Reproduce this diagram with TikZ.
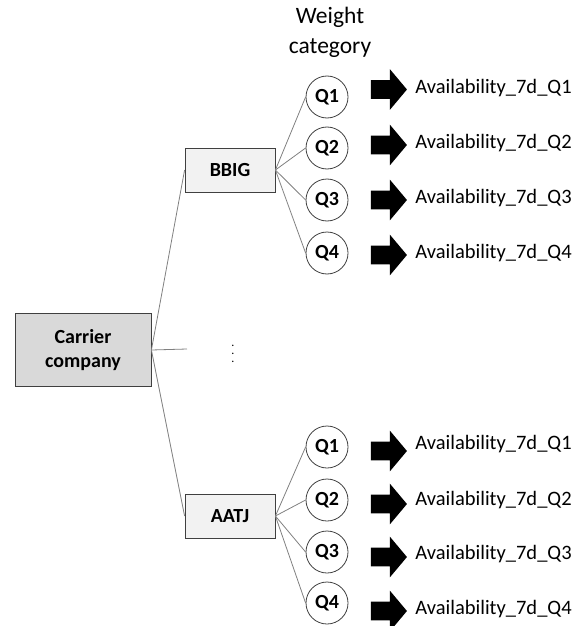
\documentclass[tikz,border=0pt]{standalone}
\usepackage{fontspec}
\setmainfont{Carlito}
\usetikzlibrary{shapes,arrows}
\definecolor{darkgrey}{HTML}{D9D9D9}
\definecolor{lightgrey}{HTML}{F2F2F2}
\definecolor{edgegrey}{HTML}{404040}
\tikzstyle{carrier} = [rectangle, draw=edgegrey, fill=darkgrey, font=\bfseries,
    minimum width=68pt, minimum height=36.5pt, align=center]
\tikzstyle{company} = [rectangle, draw=edgegrey, fill=lightgrey, font=\bfseries,
    minimum width=45pt, minimum height=22pt]
\tikzstyle{quart} = [circle, draw=edgegrey, font=\bfseries, minimum size=21pt, inner sep=0pt]
\tikzstyle{bigarrow} = [single arrow, fill=black, inner xsep=0pt, inner ysep=4.5pt,
    minimum height=18pt, single arrow head extend=5.5pt, single arrow tip angle=100]
\tikzstyle{avail} = [anchor=west, inner sep=0pt]
\tikzstyle{line} = [draw=gray, line width=0.4pt]

\begin{document}
\begin{tikzpicture} [x=0.5pt, y=-0.5pt, font=\fontsize{10.25}{12}\selectfont]
    \useasboundingbox (0,0) rectangle (583,626);
    % Nodes
    \node [font=\fontsize{11.75}{15}\selectfont, align=center] (title) at (330,32) {Weight\\category};
    \node [carrier] (carrier) at (83,350) {Carrier\\company};
    \node [company] (bbig) at (230,170) {BBIG};
    \node [company] (aatj) at (230,516) {AATJ};
    \coordinate (gap) at (187,349);
    \node [font=\fontsize{6}{6}\selectfont] (dots) at (233,348) {$\vdots$};
    % weight categories of BBIG
    \node [quart] (bq1) at (327,97) {Q1};
    \node [quart] (bq2) at (327,148) {Q2};
    \node [quart] (bq3) at (327,200) {Q3};
    \node [quart] (bq4) at (327,253) {Q4};
    \node [bigarrow] (ba1) at (385,89.5) {};
    \node [bigarrow] (ba2) at (385,145) {};
    \node [bigarrow] (ba3) at (385,200) {};
    \node [bigarrow] (ba4) at (385,255) {};
    \node [avail] (bt1) at (415,88) {Availability\_7d\_Q1};
    \node [avail] (bt2) at (415,143) {Availability\_7d\_Q2};
    \node [avail] (bt3) at (415,198) {Availability\_7d\_Q3};
    \node [avail] (bt4) at (415,253) {Availability\_7d\_Q4};
    % weight categories of AATJ
    \node [quart] (aq1) at (327,447) {Q1};
    \node [quart] (aq2) at (327,500) {Q2};
    \node [quart] (aq3) at (327,552) {Q3};
    \node [quart] (aq4) at (327,603) {Q4};
    \node [bigarrow] (aa1) at (385,451) {};
    \node [bigarrow] (aa2) at (385,504) {};
    \node [bigarrow] (aa3) at (385,557) {};
    \node [bigarrow] (aa4) at (385,611) {};
    \node [avail] (at1) at (415,444) {Availability\_7d\_Q1};
    \node [avail] (at2) at (415,500) {Availability\_7d\_Q2};
    \node [avail] (at3) at (415,554) {Availability\_7d\_Q3};
    \node [avail] (at4) at (415,609) {Availability\_7d\_Q4};
    % Paths
    \path [line] (carrier.east) -- (bbig.west);
    \path [line] (carrier.east) -- (gap);
    \path [line] (carrier.east) -- (aatj.west);
    \path [line] (bbig.east) -- (bq1.west);
    \path [line] (bbig.east) -- (bq2.west);
    \path [line] (bbig.east) -- (bq3.west);
    \path [line] (bbig.east) -- (bq4.west);
    \path [line] (aatj.east) -- (aq1.west);
    \path [line] (aatj.east) -- (aq2.west);
    \path [line] (aatj.east) -- (aq3.west);
    \path [line] (aatj.east) -- (aq4.west);
\end{tikzpicture}
\end{document}
